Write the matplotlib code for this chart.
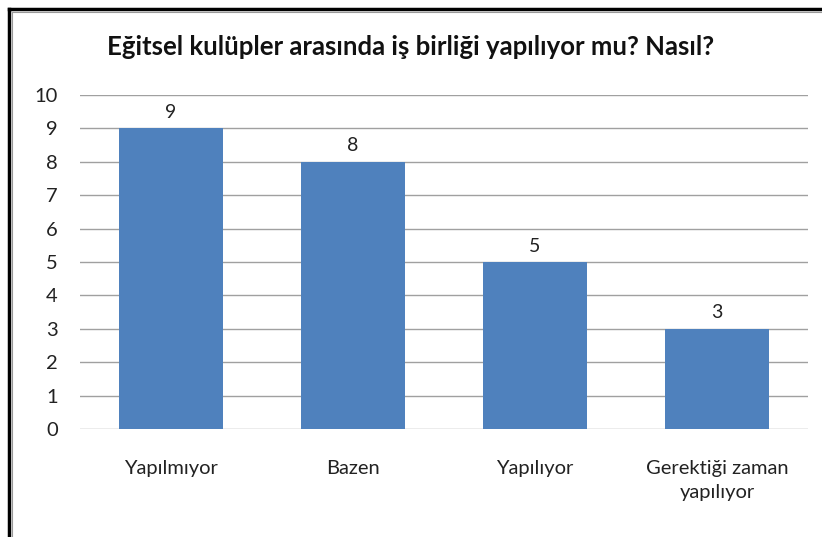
import numpy as np
import matplotlib.pyplot as plt
from matplotlib.lines import Line2D

plt.rcParams['font.family'] = ['Lato', 'DejaVu Sans']

categories = ["Yapılmıyor", "Bazen", "Yapılıyor", "Gerektiği zaman\nyapılıyor"]
values = [9, 8, 5, 3]
title = "Eğitsel kulüpler arasında iş birliği yapılıyor mu? Nasıl?"

fig = plt.figure(figsize=(8.22, 5.37), dpi=100)
ax = fig.add_axes([80 / 822, 1 - 429 / 537, 728 / 822, 334 / 537])

x = np.arange(len(categories))
bars = ax.bar(x, values, width=0.57, color="#4f81bd", zorder=3)
for b, v in zip(bars, values):
    ax.text(b.get_x() + b.get_width() / 2, v + 0.22, str(v),
            ha="center", va="bottom", fontsize=14, color="#222222")

ax.set_xlim(-0.5, len(categories) - 0.5)
ax.set_ylim(0, 10)
ax.set_yticks(range(0, 11))
ax.grid(axis="y", color="#a0a0a0", linewidth=1, zorder=0)
for s in ax.spines.values():
    s.set_visible(False)
ax.tick_params(length=0, labelsize=14.5, colors="#222222")
ax.tick_params(axis="y", pad=16)
ax.tick_params(axis="x", pad=22)
ax.set_xticks(x)
ax.set_xticklabels(categories, linespacing=1.55)

fig.text(0.5, 1 - 47 / 537, title, ha="center", va="center",
         fontsize=18.5, fontweight="bold", color="#111111")

# outer frame (top and left edges visible)
fig.add_artist(Line2D([9 / 822, 9 / 822], [0, 1 - 9 / 537], color="black", lw=2.5))
fig.add_artist(Line2D([9 / 822, 1], [1 - 9 / 537, 1 - 9 / 537], color="black", lw=2.5))
fig.add_artist(Line2D([12 / 822, 12 / 822], [0, 1 - 12 / 537], color="#999999", lw=0.8))
fig.add_artist(Line2D([12 / 822, 1], [1 - 12 / 537, 1 - 12 / 537], color="#999999", lw=0.8))

fig.savefig("out.png", dpi=100)
